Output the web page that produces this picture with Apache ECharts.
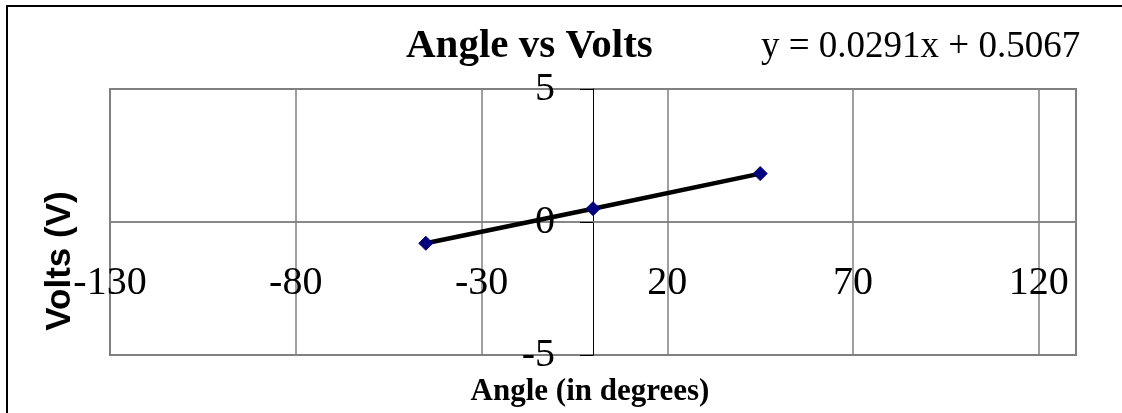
<!DOCTYPE html>
<html>
<head>
<meta charset="utf-8">
<title>Angle vs Volts</title>
<script src="https://cdn.jsdelivr.net/npm/echarts@6/dist/echarts.min.js"></script>
<style>
  html, body { margin: 0; padding: 0; background: #fff; }
  #chart { width: 1122px; height: 413px; }
</style>
</head>
<body>
<div id="chart"></div>
<script>
// angle (deg) vs measured volts
var angles = [-45, 0, 45];
var volts = [-0.80, 0.50, 1.82];
var xTicks = [-130, -80, -30, 20, 70, 120];
var yTicks = [-5, 0, 5];
var trendText = 'y = 0.0291x + 0.5067';

var serif = '"Liberation Serif", "Times New Roman", serif';
var sans = '"Liberation Sans", Arial, sans-serif';

var points = [];
for (var i = 0; i < angles.length; i++) {
  points.push([angles[i], volts[i]]);
}

// plot box, axes cross at (0,0) like the excel chart
var gLeft = 110, gRight = 46, gTop = 89, gBottom = 58;
var gW = 1122 - gLeft - gRight;
var gH = 413 - gTop - gBottom;
var xMin = -130, xMax = 130, yMin = -5, yMax = 5;
var yAxisShift = -gW * (0 - xMin) / (xMax - xMin);
var xAxisShift = -gH * (0 - yMin) / (yMax - yMin);

var myChart = echarts.init(document.getElementById('chart'));

var option = {
  animation: false,
  backgroundColor: '#fff',
  title: [
    {
      text: 'Angle vs Volts',
      left: 406, top: 26, padding: 0,
      textStyle: { fontFamily: serif, fontSize: 41, fontWeight: 'bold', color: '#000' }
    },
    {
      text: trendText,
      left: 761, top: 29, padding: 0,
      textStyle: { fontFamily: serif, fontSize: 37, fontWeight: 'normal', color: '#000' }
    }
  ],
  graphic: [
    {
      type: 'rect',
      shape: { x: 7, y: 6, width: 1300, height: 600 },
      style: { fill: 'none', stroke: '#000', lineWidth: 2 },
      silent: true
    },
    {
      type: 'text',
      x: 60, y: 261, rotation: Math.PI / 2,
      style: {
        text: 'Volts (V)', fontFamily: sans, fontSize: 35, fontWeight: 'bold',
        fill: '#000', align: 'center', verticalAlign: 'middle'
      }
    },
    {
      type: 'text',
      x: 590, y: 392,
      style: {
        text: 'Angle (in degrees)', fontFamily: serif, fontSize: 31, fontWeight: 'bold',
        fill: '#000', align: 'center', verticalAlign: 'middle'
      }
    }
  ],
  grid: {
    left: gLeft, right: gRight, top: gTop, bottom: gBottom,
    containLabel: false, outerBoundsMode: 'none',
    show: true, borderColor: '#808080', borderWidth: 2, backgroundColor: 'transparent'
  },
  xAxis: {
    type: 'value',
    min: xMin, max: xMax,
    position: 'bottom', offset: xAxisShift,
    axisLine: { onZero: false, lineStyle: { color: '#808080', width: 1.5 } },
    axisTick: { show: false, customValues: xTicks },
    axisLabel: {
      customValues: xTicks, margin: 41,
      fontFamily: serif, fontSize: 40, color: '#000'
    },
    splitLine: { show: true, lineStyle: { color: '#808080', width: 1.5 } }
  },
  yAxis: {
    type: 'value',
    min: yMin, max: yMax,
    position: 'left', offset: yAxisShift,
    axisLine: { onZero: false, lineStyle: { color: '#000', width: 1 } },
    axisTick: { show: true, length: 13, customValues: yTicks, lineStyle: { color: '#000', width: 1 } },
    axisLabel: {
      customValues: yTicks, margin: 38, padding: [7, 0, 0, 0],
      fontFamily: serif, fontSize: 40, color: '#000'
    },
    splitLine: { show: true, lineStyle: { color: '#808080', width: 1.5 } }
  },
  series: [
    {
      type: 'line',
      data: points,
      symbol: 'diamond',
      symbolSize: 14,
      itemStyle: { color: '#000080', borderColor: '#000080' },
      lineStyle: { color: '#000', width: 4.5 }
    }
  ]
};

myChart.setOption(option);
</script>
</body>
</html>
